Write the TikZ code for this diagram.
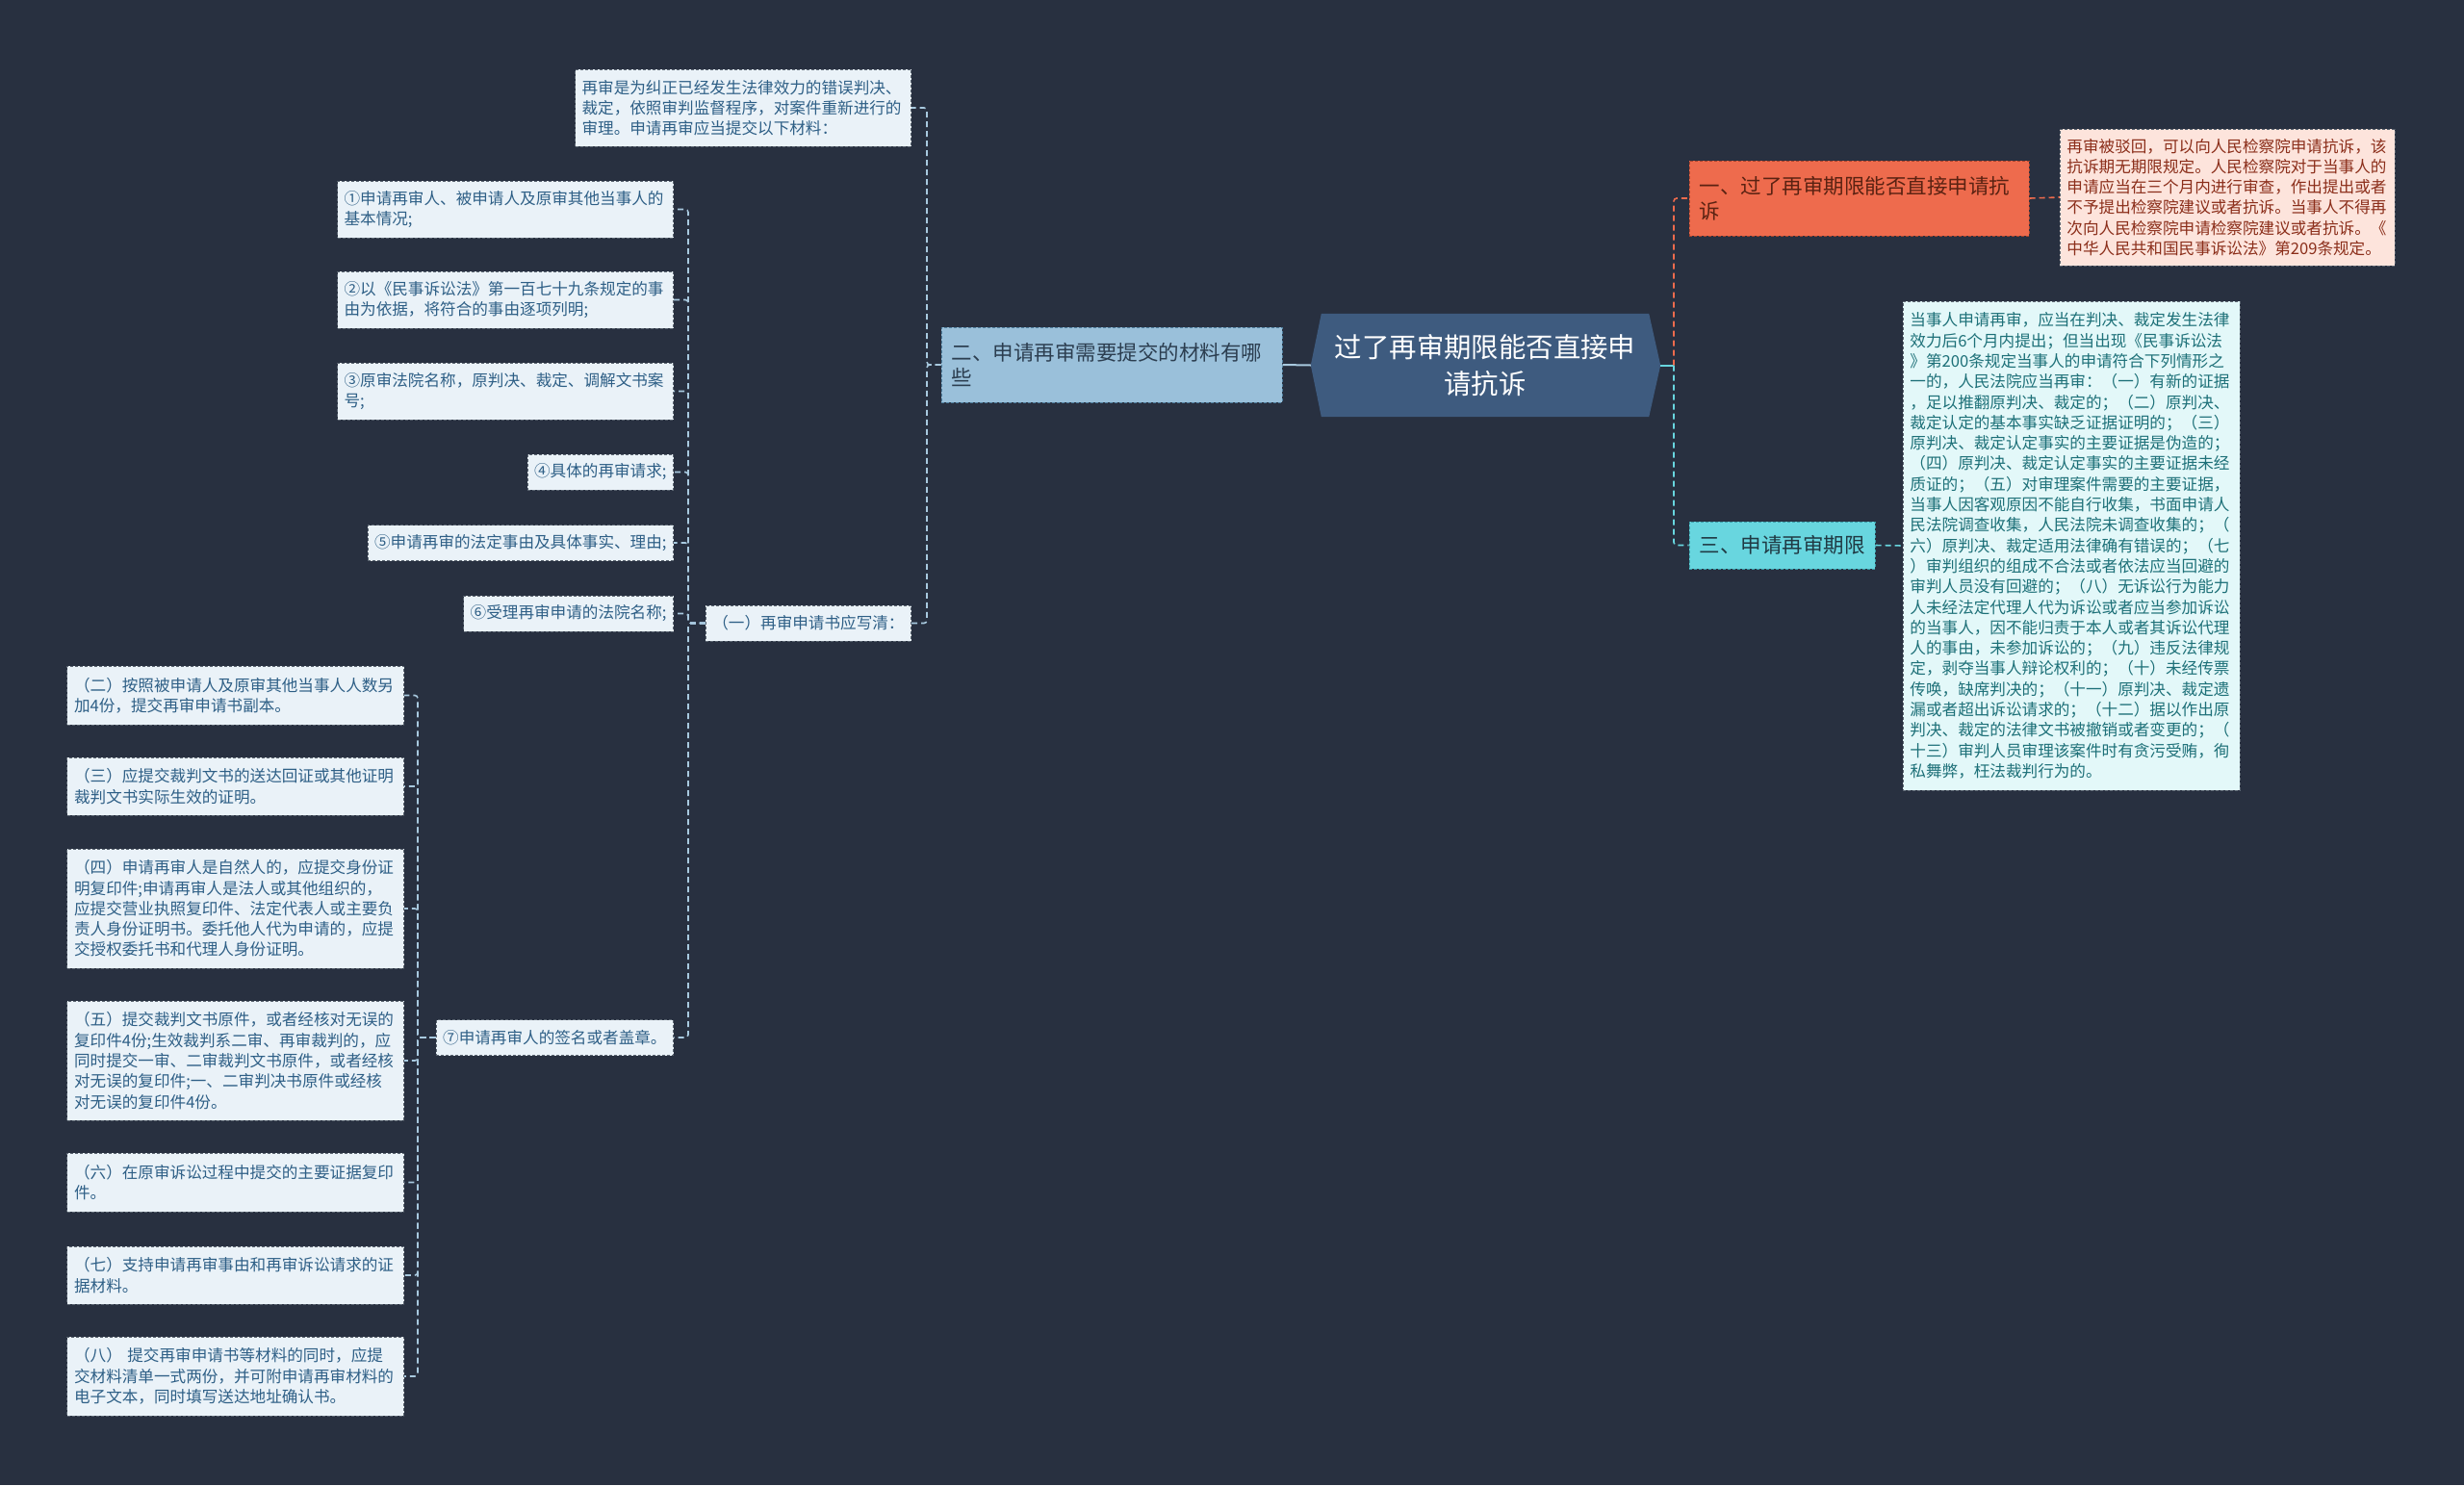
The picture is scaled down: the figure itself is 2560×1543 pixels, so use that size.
\documentclass[tikz,border=0pt]{standalone}
\usepackage{fontspec}
\setmainfont{Noto Sans CJK SC}
\definecolor{bgc}{HTML}{283040}
\definecolor{rootfill}{HTML}{3E5B7F}
\definecolor{ctwofill}{HTML}{9AC0DA}
\definecolor{ctwoborder}{HTML}{4E7E9E}
\definecolor{ctwotext}{HTML}{2C3E50}
\definecolor{conefill}{HTML}{EE6B4D}
\definecolor{coneborder}{HTML}{A8432C}
\definecolor{conetext}{HTML}{5A2212}
\definecolor{pinkfill}{HTML}{FDE4DC}
\definecolor{pinktext}{HTML}{8B2E1A}
\definecolor{cthrfill}{HTML}{68D6DF}
\definecolor{cthrborder}{HTML}{3A9CA6}
\definecolor{cthrtext}{HTML}{203A44}
\definecolor{cyleaffill}{HTML}{E3F8F9}
\definecolor{cyleaftext}{HTML}{1D7078}
\definecolor{leaffill}{HTML}{EAF2F8}
\definecolor{leaftext}{HTML}{2E5F86}
\definecolor{leafborder}{HTML}{5A6470}
\definecolor{lineL}{HTML}{A8C9DF}
\definecolor{lineO}{HTML}{EE6B4D}
\definecolor{lineC}{HTML}{68D6DF}
\pgfdeclarelayer{bglayer}
\pgfsetlayers{bglayer,main}
\tikzset{
  rootnode/.style={inner sep=0pt, text=white, align=center,
    font={\fontsize{28.4}{38}\selectfont}},
  lvlone/.style={dash pattern=on 3pt off 2pt, line width=1pt, inner xsep=10.5pt, inner ysep=4pt,
    align=left, font={\fontsize{21.5}{26}\selectfont}},
  leafbox/.style={draw=leafborder, dash pattern=on 3pt off 2pt, line width=0.9pt,
    inner xsep=7pt, inner ysep=4pt, align=left, font={\fontsize{16.6}{21.3}\selectfont}},
  leafL/.style={leafbox, fill=leaffill, text=leaftext},
  leafwide/.style={leafL, minimum width=349pt, text width=335pt},
  connL/.style={draw=lineL, line width=1.6pt, dash pattern=on 6pt off 4pt, rounded corners=3pt},
  connO/.style={draw=lineO, line width=1.6pt, dash pattern=on 6pt off 4pt, rounded corners=3pt},
  connC/.style={draw=lineC, line width=1.6pt, dash pattern=on 6pt off 4pt, rounded corners=3pt},
  solidL/.style={draw=lineL, line width=2pt},
  solidC/.style={draw=lineC, line width=2pt}
}
\begin{document}
\begin{tikzpicture}[x=1pt,y=-1pt]
\begin{pgfonlayer}{bglayer}
\fill[bgc] (0,0) rectangle (2560,1543);
\end{pgfonlayer}
\useasboundingbox (0,0) rectangle (2560,1543);

% root
\node[rootnode, minimum width=340pt, minimum height=107pt] (root) at (1543,379.5)
  {过了再审期限能否直接申\\请抗诉};
\begin{pgfonlayer}{bglayer}
\fill[rootfill] (root.north west) -- (root.north east) -- ([xshift=12pt]root.east)
  -- (root.south east) -- (root.south west) -- ([xshift=-11pt]root.west) -- cycle;
\end{pgfonlayer}

% level one
\node[lvlone, draw=ctwoborder, fill=ctwofill, text=ctwotext, minimum width=354pt,
  minimum height=78pt, text width=333pt] (n2) at (1155,379)
  {二、申请再审需要提交的材料有哪\\些};
\node[lvlone, draw=coneborder, fill=conefill, text=conetext, minimum width=353pt,
  minimum height=78pt, text width=332pt] (n1) at (1931.5,206)
  {一、过了再审期限能否直接申请抗\\诉};
\node[lvlone, draw=cthrborder, fill=cthrfill, text=cthrtext, minimum width=193pt,
  minimum height=49pt] (n3) at (1851.5,566.5) {三、申请再审期限};

% right leaves
\node[leafbox, fill=pinkfill, text=pinktext, anchor=west, minimum width=348pt,
  minimum height=142pt, text width=334pt] (d1) at (2140,205)
  {再审被驳回，可以向人民检察院申请抗诉，该\\抗诉期无期限规定。人民检察院对于当事人的\\申请应当在三个月内进行审查，作出提出或者\\不予提出检察院建议或者抗诉。当事人不得再\\次向人民检察院申请检察院建议或者抗诉。《\\中华人民共和国民事诉讼法》第209条规定。};
\node[leafbox, fill=cyleaffill, text=cyleaftext, anchor=west, minimum width=350pt,
  minimum height=508pt, text width=336pt] (d3) at (1977,567)
  {当事人申请再审，应当在判决、裁定发生法律\\效力后6个月内提出；但当出现《民事诉讼法\\》第200条规定当事人的申请符合下列情形之\\一的，人民法院应当再审：（一）有新的证据\\，足以推翻原判决、裁定的；（二）原判决、\\裁定认定的基本事实缺乏证据证明的；（三）\\原判决、裁定认定事实的主要证据是伪造的；\\（四）原判决、裁定认定事实的主要证据未经\\质证的；（五）对审理案件需要的主要证据，\\当事人因客观原因不能自行收集，书面申请人\\民法院调查收集，人民法院未调查收集的；（\\六）原判决、裁定适用法律确有错误的；（七\\）审判组织的组成不合法或者依法应当回避的\\审判人员没有回避的；（八）无诉讼行为能力\\人未经法定代理人代为诉讼或者应当参加诉讼\\的当事人，因不能归责于本人或者其诉讼代理\\人的事由，未参加诉讼的；（九）违反法律规\\定，剥夺当事人辩论权利的；（十）未经传票\\传唤，缺席判决的；（十一）原判决、裁定遗\\漏或者超出诉讼请求的；（十二）据以作出原\\判决、裁定的法律文书被撤销或者变更的；（\\十三）审判人员审理该案件时有贪污受贿，徇\\私舞弊，枉法裁判行为的。};

% left level two
\node[leafwide, anchor=east, minimum height=80pt] (intro) at (947,112)
  {再审是为纠正已经发生法律效力的错误判决、\\裁定，依照审判监督程序，对案件重新进行的\\审理。申请再审应当提交以下材料：};
\node[leafL, anchor=east, minimum height=37pt] (sub1) at (947,647.5) {（一）再审申请书应写清：};

% level three
\node[leafwide, anchor=east, minimum height=59pt] (c1) at (700,217.5)
  {①申请再审人、被申请人及原审其他当事人的\\基本情况;};
\node[leafwide, anchor=east, minimum height=59pt] (c2) at (700,311.5)
  {②以《民事诉讼法》第一百七十九条规定的事\\由为依据，将符合的事由逐项列明;};
\node[leafwide, anchor=east, minimum height=59pt] (c3) at (700,406.5)
  {③原审法院名称，原判决、裁定、调解文书案\\号;};
\node[leafL, anchor=east, minimum height=37pt] (c4) at (700,490.5) {④具体的再审请求;};
\node[leafL, anchor=east, minimum height=37pt] (c5) at (700,564) {⑤申请再审的法定事由及具体事实、理由;};
\node[leafL, anchor=east, minimum height=37pt] (c6) at (700,637.5) {⑥受理再审申请的法院名称;};
\node[leafL, anchor=east, minimum height=37pt] (c7) at (700,1078) {⑦申请再审人的签名或者盖章。};

% level four
\node[leafwide, anchor=east, minimum width=350pt, minimum height=61pt] (e2) at (420,722.5)
  {（二）按照被申请人及原审其他当事人人数另\\加4份，提交再审申请书副本。};
\node[leafwide, anchor=east, minimum width=350pt, minimum height=60pt] (e3) at (420,817)
  {（三）应提交裁判文书的送达回证或其他证明\\裁判文书实际生效的证明。};
\node[leafwide, anchor=east, minimum width=350pt, minimum height=124pt] (e4) at (420,944)
  {（四）申请再审人是自然人的，应提交身份证\\明复印件;申请再审人是法人或其他组织的，\\应提交营业执照复印件、法定代表人或主要负\\责人身份证明书。委托他人代为申请的，应提\\交授权委托书和代理人身份证明。};
\node[leafwide, anchor=east, minimum width=350pt, minimum height=124pt] (e5) at (420,1102)
  {（五）提交裁判文书原件，或者经核对无误的\\复印件4份;生效裁判系二审、再审裁判的，应\\同时提交一审、二审裁判文书原件，或者经核\\对无误的复印件;一、二审判决书原件或经核\\对无误的复印件4份。};
\node[leafwide, anchor=east, minimum width=350pt, minimum height=61pt] (e6) at (420,1228.5)
  {（六）在原审诉讼过程中提交的主要证据复印\\件。};
\node[leafwide, anchor=east, minimum width=350pt, minimum height=60pt] (e7) at (420,1325)
  {（七）支持申请再审事由和再审诉讼请求的证\\据材料。};
\node[leafwide, anchor=east, minimum width=350pt, minimum height=82pt] (e8) at (420,1430)
  {（八） 提交再审申请书等材料的同时，应提\\交材料清单一式两份，并可附申请再审材料的\\电子文本，同时填写送达地址确认书。};

% spines
\coordinate (sR) at (1739,0);
\coordinate (sA) at (963,0);
\coordinate (sB) at (715,0);
\coordinate (sC) at (434,0);

% connectors: root
\draw[solidL] ([xshift=-11pt]root.west) -- (n2.east);
\draw[solidC] ([xshift=12pt]root.east) -- (sR |- root.east);
\draw[connO] (sR |- root.east) |- (n1.west);
\draw[connC] (sR |- root.east) |- (n3.west);
\draw[connO] (n1.east) -- (d1.west);
\draw[connC] (n3.east) -- (d3.west);

% left
\foreach \t in {intro,sub1}
  \draw[connL] (n2.west) -- (sA |- n2.west) |- (\t.east);
\foreach \t in {c1,c2,c3,c4,c5,c6,c7}
  \draw[connL] (sub1.west) -- (sB |- sub1.west) |- (\t.east);
\foreach \t in {e2,e3,e4,e5,e6,e7,e8}
  \draw[connL] (c7.west) -- (sC |- c7.west) |- (\t.east);
\end{tikzpicture}
\end{document}
